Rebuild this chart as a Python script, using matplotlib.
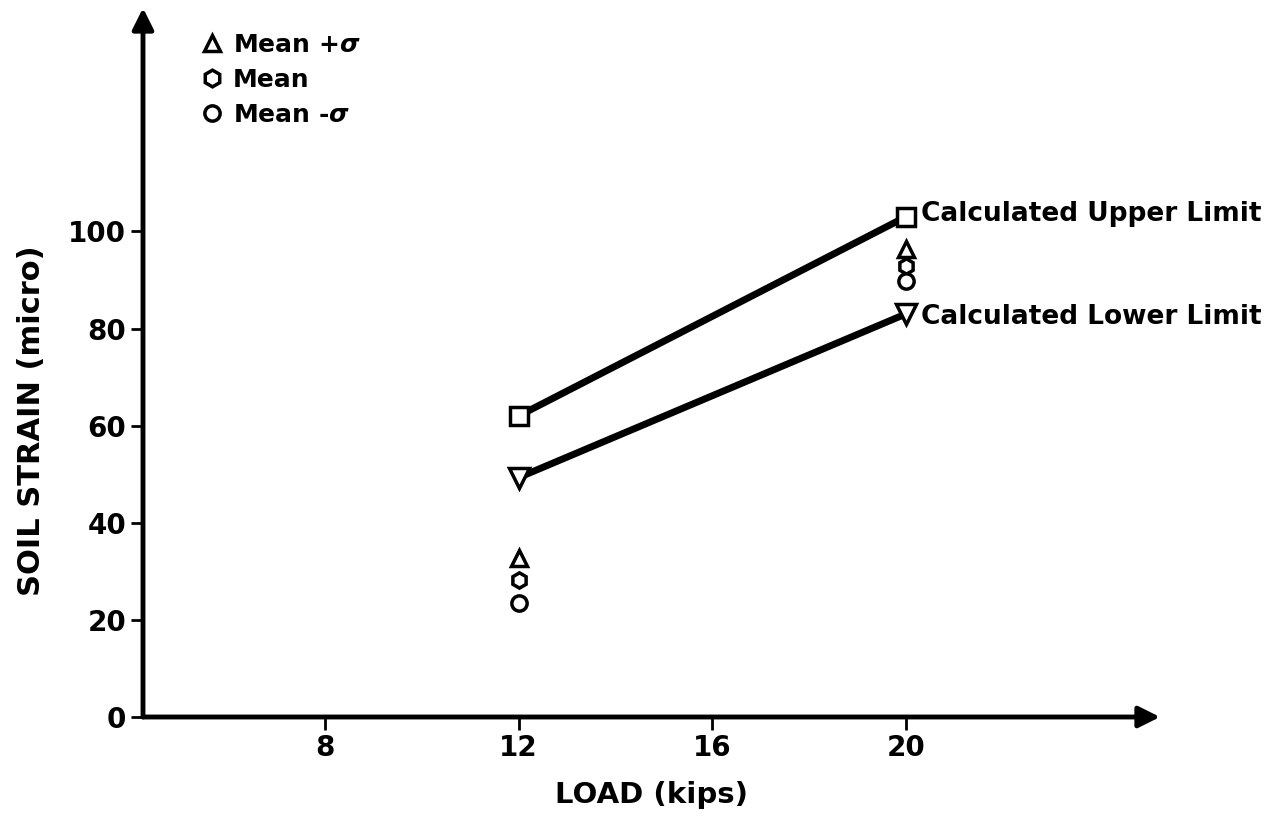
import matplotlib
matplotlib.use('Agg')
import matplotlib.pyplot as plt
from matplotlib.lines import Line2D

# Data
load_limits = [12, 20]
upper_limit = [62, 103]
lower_limit = [49.3, 83]

load_meas = [12, 20]
mean_plus = [32.8, 96.3]
mean = [28.2, 92.8]
mean_minus = [23.5, 89.7]

x_ticks = [8, 12, 16, 20]
y_ticks = [0, 20, 40, 60, 80, 100]

plt.rcParams['font.family'] = 'DejaVu Sans'
plt.rcParams['font.weight'] = 'bold'

fig = plt.figure(figsize=(12.7, 8.23), dpi=100)
ax = fig.add_axes([143/1270, 106/823, (1160-143)/1270, (717-8)/823])
ax.set_xlim(4.24, 25.25)
ax.set_ylim(0, 146)

# calculated limits
ax.plot(load_limits, upper_limit, color='black', lw=5, marker='s', ms=13,
        mfc='white', mec='black', mew=2.5, solid_capstyle='butt')
ax.plot(load_limits, lower_limit, color='black', lw=5, marker='v', ms=14,
        mfc='white', mec='black', mew=2.5, solid_capstyle='butt')

# measurements
ax.plot(load_meas, mean_plus, ls='none', marker='^', ms=11, mfc='white', mec='black', mew=2.5)
ax.plot(load_meas, mean, ls='none', marker='h', ms=11, mfc='white', mec='black', mew=2.5)
ax.plot(load_meas, mean_minus, ls='none', marker='o', ms=11, mfc='white', mec='black', mew=2.5)

ax.annotate('Calculated Upper Limit', xy=(load_limits[1], upper_limit[1]), xytext=(11, 2),
            textcoords='offset points', va='center', ha='left', fontsize=19, fontweight='bold')
ax.annotate('Calculated Lower Limit', xy=(load_limits[1], lower_limit[1]), xytext=(11, -2),
            textcoords='offset points', va='center', ha='left', fontsize=19, fontweight='bold')

# legend
handles = [Line2D([], [], ls='none', marker='^', ms=12, mfc='white', mec='black', mew=2.5),
           Line2D([], [], ls='none', marker='h', ms=12, mfc='white', mec='black', mew=2.5),
           Line2D([], [], ls='none', marker='o', ms=11, mfc='white', mec='black', mew=2.5)]
labels = [r'Mean +$\sigma$', 'Mean', r'Mean -$\sigma$']
leg = ax.legend(handles, labels, loc='upper left', bbox_to_anchor=(0.042, 0.99), frameon=False,
                handlelength=0.7, handletextpad=0.5, labelspacing=0.45, borderaxespad=0.3,
                prop={'size': 18, 'weight': 'bold'})

# axes with arrows
for s in ['top', 'right', 'left', 'bottom']:
    ax.spines[s].set_visible(False)
ax.annotate('', xy=(1.0, 0), xytext=(0, 0), xycoords='axes fraction',
            arrowprops=dict(arrowstyle='-|>', lw=3.5, color='black', mutation_scale=32,
                            shrinkA=0, shrinkB=0))
ax.annotate('', xy=(0, 1.0), xytext=(0, 0), xycoords='axes fraction',
            arrowprops=dict(arrowstyle='-|>', lw=3.5, color='black', mutation_scale=32,
                            shrinkA=0, shrinkB=0))

ax.set_xticks(x_ticks)
ax.set_yticks(y_ticks)
ax.tick_params(axis='both', direction='out', width=2, length=9, labelsize=20, pad=3)
for lab in ax.get_xticklabels() + ax.get_yticklabels():
    lab.set_fontweight('bold')

ax.set_xlabel('LOAD (kips)', fontsize=21, fontweight='bold', labelpad=14)
ax.set_ylabel('SOIL STRAIN (micro)', fontsize=22, fontweight='bold')
ax.yaxis.set_label_coords(-0.095, (717 - 421) / 709)

fig.savefig('out.png', dpi=100)
